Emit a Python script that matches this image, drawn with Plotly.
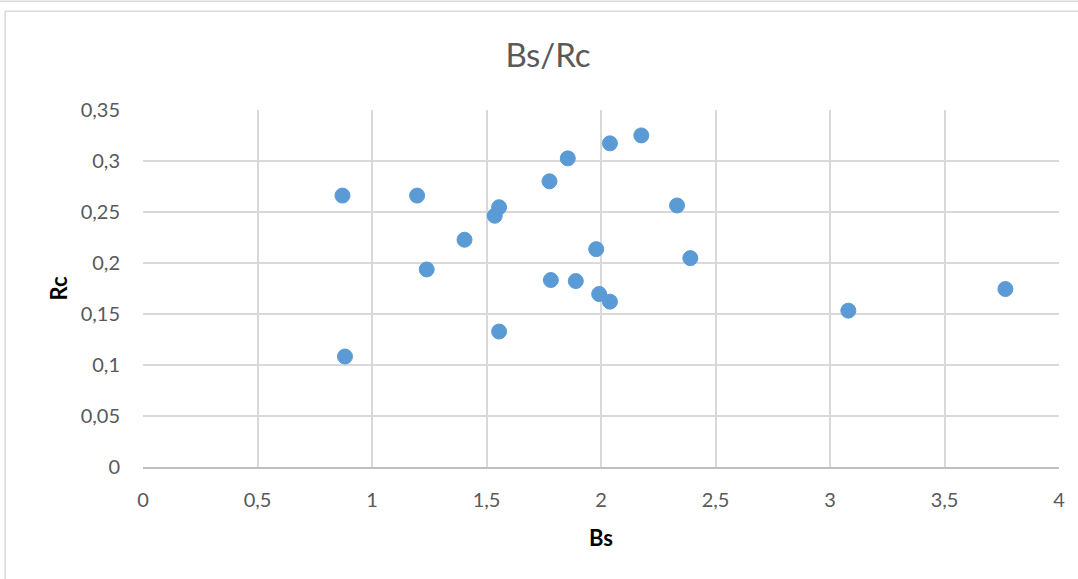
import plotly.graph_objects as go

bs = [0.871, 0.882, 1.197, 1.239, 1.404, 1.536, 1.555, 1.555, 1.775, 1.781, 1.855,
      1.890, 1.979, 1.992, 2.039, 2.039, 2.176, 2.332, 2.390, 3.080, 3.766]
rc = [0.2661, 0.1083, 0.2661, 0.1937, 0.2228, 0.2463, 0.2547, 0.1328, 0.2801, 0.1833, 0.3026,
      0.1823, 0.2136, 0.1696, 0.3173, 0.1621, 0.3251, 0.2564, 0.2048, 0.1533, 0.1745]

x_ticks = [0, 0.5, 1, 1.5, 2, 2.5, 3, 3.5, 4]
x_labels = ["0", "0,5", "1", "1,5", "2", "2,5", "3", "3,5", "4"]
y_ticks = [0, 0.05, 0.1, 0.15, 0.2, 0.25, 0.3, 0.35]
y_labels = ["0", "0,05", "0,1", "0,15", "0,2", "0,25", "0,3", "0,35"]

FONT = "Lato"
GRID = "#D9D9D9"
TXT = "#595959"

L, R, T, B = 143.3, 19, 109.5, 112
PW = 1078 - L - R
PH = 579 - T - B

def px_x(p):
    return (p - L) / PW

def px_y(p):
    return (579 - B - p) / PH

fig = go.Figure(go.Scatter(
    x=bs, y=rc, mode="markers",
    marker=dict(size=15, color="#5B9BD5", line=dict(width=1, color="#5B9BD5")),
    cliponaxis=False, showlegend=False,
))

fig.update_layout(
    width=1078, height=579,
    margin=dict(l=L, r=R, t=T, b=B),
    paper_bgcolor="white", plot_bgcolor="white",
    font=dict(family=FONT, color=TXT),
    title=dict(text="Bs/Rc", x=548/1078, xanchor="center", y=1-55/579, yanchor="middle",
               xref="container", yref="container",
               font=dict(family=FONT, size=33, color=TXT)),
    xaxis=dict(range=[0, 4], tickvals=x_ticks, ticktext=x_labels,
               showgrid=True, gridcolor=GRID, gridwidth=1.6,
               showline=True, linecolor="#BFBFBF", linewidth=1.6,
               zeroline=False, ticks="", ticklabelstandoff=14,
               tickfont=dict(family=FONT, size=20, color=TXT),
               title=dict(text="<b>Bs</b>", standoff=21,
                          font=dict(family=FONT, size=22, color="#000000"))),
    yaxis=dict(range=[0, 0.35], tickvals=y_ticks, ticktext=y_labels,
               showgrid=True, gridcolor=GRID, gridwidth=1.6,
               showline=False, zeroline=False, ticks="", ticklabelstandoff=22,
               tickfont=dict(family=FONT, size=20, color=TXT),
               title=dict(text="<b>Rc</b>", standoff=6,
                          font=dict(family=FONT, size=22, color="#000000"))),
    shapes=[
        dict(type="line", xref="paper", yref="paper",
             x0=px_x(5), x1=px_x(1100), y0=px_y(10.5), y1=px_y(10.5),
             line=dict(color=GRID, width=1.5)),
        dict(type="line", xref="paper", yref="paper",
             x0=px_x(5.5), x1=px_x(5.5), y0=px_y(10.5), y1=px_y(600),
             line=dict(color=GRID, width=1.5)),
        dict(type="line", xref="paper", yref="paper",
             x0=px_x(-10), x1=px_x(1100), y0=px_y(0.5), y1=px_y(0.5),
             line=dict(color=GRID, width=1.5)),
    ],
)

fig.write_html("out.html", config={"displayModeBar": False},
               post_script="document.body.style.margin='0';document.body.style.overflow='hidden';")
